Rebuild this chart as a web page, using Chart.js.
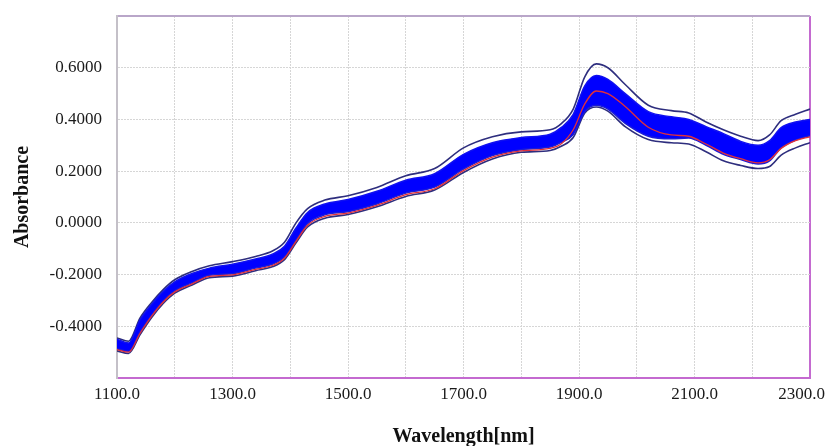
<!DOCTYPE html>
<html>
<head>
<meta charset="utf-8">
<script src="https://cdn.jsdelivr.net/npm/chart.js@4.4.1/dist/chart.umd.min.js"></script>
<style>
  body { margin: 0; background: #fff; }
  #wrap { width: 827px; height: 446px; position: relative; }
</style>
</head>
<body>
<div id="wrap"><canvas id="spectra"></canvas></div>
<script>
// wavelengths (nm) and absorbance
const wavelength = [1100, 1120, 1140, 1160, 1180, 1200, 1230, 1260, 1300, 1340, 1370, 1390, 1410, 1430, 1460, 1500, 1550, 1600, 1650, 1700,
    1750, 1800, 1850, 1870, 1890, 1910, 1930, 1950, 1980, 2020, 2060, 2090, 2120, 2150, 2180, 2210, 2230, 2250, 2275, 2300];
const upperEnv = [-0.445, -0.458, -0.368, -0.308, -0.258, -0.22, -0.188, -0.166, -0.15, -0.13, -0.108, -0.075, 0.0, 0.055, 0.088, 0.105, 0.137, 0.182, 0.21, 0.29,
    0.333, 0.352, 0.36, 0.385, 0.44, 0.565, 0.615, 0.6, 0.535, 0.455, 0.434, 0.425, 0.39, 0.36, 0.335, 0.318, 0.34, 0.395, 0.42, 0.44];
const bandTop = [-0.45, -0.465, -0.375, -0.315, -0.265, -0.228, -0.196, -0.175, -0.16, -0.14, -0.12, -0.09, -0.02, 0.04, 0.073, 0.09, 0.122, 0.165, 0.19, 0.265,
    0.31, 0.33, 0.343, 0.37, 0.42, 0.53, 0.57, 0.555, 0.5, 0.43, 0.41, 0.40, 0.372, 0.345, 0.315, 0.30, 0.318, 0.368, 0.39, 0.40];
const bandBottom = [-0.487, -0.497, -0.422, -0.357, -0.302, -0.263, -0.232, -0.203, -0.197, -0.175, -0.159, -0.132, -0.067, -0.003, 0.031, 0.043, 0.073, 0.115, 0.138, 0.208,
    0.26, 0.283, 0.293, 0.312, 0.342, 0.43, 0.455, 0.44, 0.385, 0.335, 0.325, 0.328, 0.30, 0.265, 0.245, 0.228, 0.24, 0.29, 0.32, 0.337];
const meanLine = [-0.49, -0.5, -0.427, -0.361, -0.306, -0.267, -0.236, -0.207, -0.201, -0.18, -0.164, -0.137, -0.072, -0.009, 0.025, 0.038, 0.068, 0.109, 0.132, 0.202,
    0.254, 0.278, 0.288, 0.307, 0.36, 0.46, 0.51, 0.5, 0.45, 0.37, 0.34, 0.335, 0.305, 0.27, 0.248, 0.232, 0.244, 0.288, 0.318, 0.333];
const lowerEnv = [-0.495, -0.505, -0.432, -0.366, -0.312, -0.272, -0.24, -0.212, -0.206, -0.185, -0.169, -0.142, -0.077, -0.016, 0.018, 0.032, 0.062, 0.102, 0.127, 0.195,
    0.247, 0.273, 0.28, 0.297, 0.33, 0.425, 0.448, 0.432, 0.372, 0.322, 0.31, 0.305, 0.275, 0.24, 0.222, 0.21, 0.218, 0.262, 0.29, 0.31];

const xTickLabels = [1100, 1300, 1500, 1700, 1900, 2100, 2300];
const yTickLabels = [-0.4, -0.2, 0, 0.2, 0.4, 0.6];

function pts(arr) {
    return wavelength.map((w, i) => ({ x: w, y: arr[i] }));
}

const serif = "'Liberation Serif', 'Times New Roman', serif";

function line(label, arr, color, width, extra) {
    return Object.assign({
        label: label,
        data: pts(arr),
        borderColor: color,
        borderWidth: width,
        pointRadius: 0,
        cubicInterpolationMode: 'monotone',
        fill: false
    }, extra || {});
}

const ctx = document.getElementById('spectra');
new Chart(ctx, {
    type: 'line',
    data: {
        datasets: [
            line('mean', meanLine, '#e0303a', 1.3),
            line('band top', bandTop, '#1010f0', 1.5),
            line('band bottom', bandBottom, '#1a1ad8', 1.5, { fill: 1, backgroundColor: '#0000ff' }),
            line('upper', upperEnv, '#2e2e7e', 1.6),
            line('lower', lowerEnv, '#2e2e7e', 1.6)
        ]
    },
    options: {
        responsive: true,
        maintainAspectRatio: false,
        animation: false,
        layout: { padding: { top: 16, right: 17, left: 0, bottom: 0 } },
        plugins: {
            legend: { display: false },
            tooltip: { enabled: false }
        },
        scales: {
            x: {
                type: 'linear',
                min: 1100,
                max: 2300,
                afterFit: s => { s.height = 68; s.paddingLeft = 0; s.paddingRight = 0; },
                ticks: {
                    stepSize: 100,
                    autoSkip: false,
                    maxRotation: 0,
                    padding: 6,
                    color: '#1a1a1a',
                    font: { family: serif, size: 17 },
                    callback: v => {
                        if (!xTickLabels.includes(Math.round(v))) return '';
                        // last label sits against the right edge, pad it so it stays inside
                        return v === 2300 ? v.toFixed(1) + '\u2007\u2007' : v.toFixed(1);
                    }
                },
                grid: {
                    drawTicks: false,
                    color: c => (c.tick && c.tick.value === 2300) ? '#c46ad0' : '#d6d6d6',
                    lineWidth: c => (c.tick && c.tick.value === 2300) ? 2 : 1
                },
                border: {
                    color: '#c46ad0',
                    width: 2,
                    dash: c => (c.tick && c.tick.value === 2300) ? [] : [2, 1]
                },
                title: {
                    display: true,
                    text: 'Wavelength[nm]',
                    color: '#111',
                    font: { family: serif, size: 20, weight: 'bold' },
                    padding: { top: 0, bottom: -3 }
                }
            },
            y: {
                min: -0.6,
                max: 0.8,
                afterFit: s => { s.width = 117; s.paddingTop = 0; s.paddingBottom = 0; },
                ticks: {
                    stepSize: 0.2,
                    padding: 15,
                    color: '#1a1a1a',
                    font: { family: serif, size: 17 },
                    callback: v => {
                        const hit = yTickLabels.find(t => Math.abs(t - v) < 1e-6);
                        return hit === undefined ? '' : hit.toFixed(4);
                    }
                },
                grid: {
                    drawTicks: false,
                    color: c => (c.tick && Math.abs(c.tick.value - 0.8) < 1e-6) ? '#b9a6c9' : '#d6d6d6',
                    lineWidth: c => (c.tick && Math.abs(c.tick.value - 0.8) < 1e-6) ? 2 : 1
                },
                border: {
                    color: '#c4c0c8',
                    width: 2,
                    dash: c => (c.tick && Math.abs(c.tick.value - 0.8) < 1e-6) ? [] : [2, 1]
                },
                title: {
                    display: true,
                    text: 'Absorbance',
                    color: '#111',
                    font: { family: serif, size: 20, weight: 'bold' },
                    padding: { top: 11, bottom: 0 }
                }
            }
        }
    }
});
</script>
</body>
</html>
